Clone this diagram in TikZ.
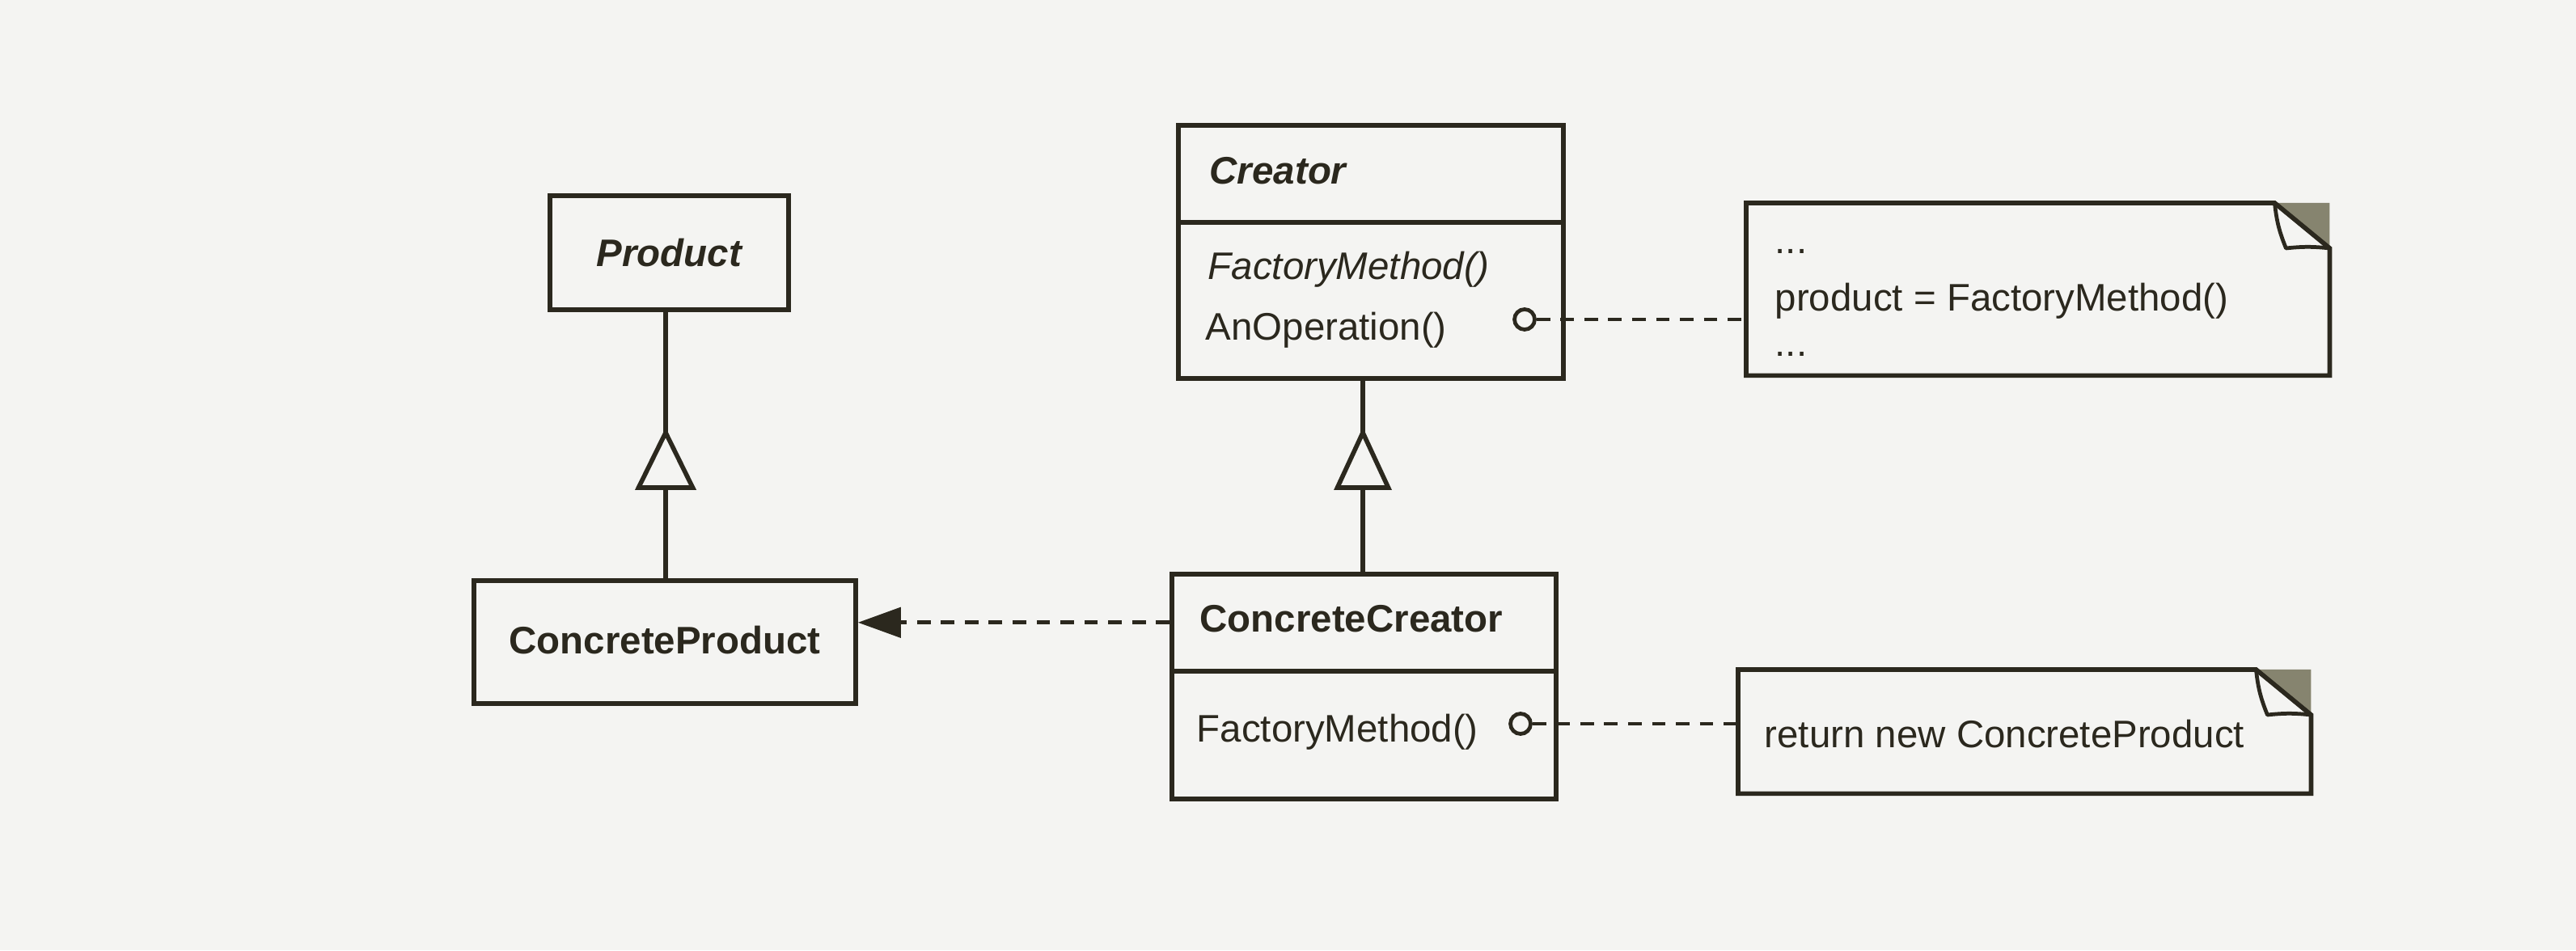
\documentclass[tikz,border=0pt]{standalone}
\usepackage{fontspec}
\setmainfont{Liberation Sans}
\usetikzlibrary{arrows.meta,calc}
\definecolor{ink}{HTML}{2B281E}
\definecolor{paper}{HTML}{F4F4F2}
\definecolor{foldgray}{HTML}{86846F}
\begin{document}
\begin{tikzpicture}[x=1cm,y=1cm,
  classbox/.style={draw=ink, line width=1.6pt, rectangle, inner sep=0pt},
  lbl/.style={text=ink, font=\fontsize{13.5}{16}\selectfont, inner sep=0pt},
  notebox/.style={rectangle, inner sep=0pt},
  dashedline/.style={draw=ink, line width=1.35pt, dash pattern=on 4.8pt off 3.6pt},
  hollowtri/.style={draw=ink, line width=1.6pt, fill=paper, line join=miter},
  plainline/.style={draw=ink, line width=1.6pt},
  pin/.style={circle, draw=ink, line width=1.35pt, minimum size=0.25cm, inner sep=0pt}
]
\fill[paper] (0,0) rectangle (31.85,11.75);
\useasboundingbox (0,0) rectangle (31.85,11.75);

% Product
\node[classbox, minimum width=2.95cm, minimum height=1.41cm] (product) at (8.275,8.625) {};
\node[lbl, font=\fontsize{13.5}{16}\selectfont\bfseries\itshape] (productT) at (product) {Product};

% ConcreteProduct
\node[classbox, minimum width=4.72cm, minimum height=1.52cm] (cproduct) at (8.22,3.81) {};
\node[lbl, font=\fontsize{13.5}{16}\selectfont\bfseries] (cproductT) at (8.22,3.83) {ConcreteProduct};

% Creator
\node[classbox, anchor=north west, minimum width=4.76cm, minimum height=1.20cm] (creatorH) at (14.54,10.23) {};
\node[classbox, anchor=north west, minimum width=4.76cm, minimum height=1.93cm] (creatorB) at (14.54,9.03) {};
\node[lbl, anchor=base west, font=\fontsize{13.5}{16}\selectfont\bfseries\itshape] (creatorT) at (14.95,9.47) {Creator};
\node[lbl, anchor=base west, font=\fontsize{13.5}{16}\selectfont\itshape] (fmA) at (14.93,8.29) {FactoryMethod()};
\node[lbl, anchor=base west] (anop) at (14.90,7.54) {AnOperation()};
\node[pin] (pinA) at (18.85,7.80) {};

% ConcreteCreator
\node[classbox, anchor=north west, minimum width=4.75cm, minimum height=1.20cm] (ccreatorH) at (14.46,4.68) {};
\node[classbox, anchor=north west, minimum width=4.75cm, minimum height=1.58cm] (ccreatorB) at (14.46,3.48) {};
\node[lbl, anchor=base west, font=\fontsize{13.5}{16}\selectfont\bfseries] (ccreatorT) at (14.83,3.93) {ConcreteCreator};
\node[lbl, anchor=base west] (fmB) at (14.79,2.57) {FactoryMethod()};
\node[pin] (pinB) at (18.80,2.80) {};

% Notes
\node[notebox, anchor=north west, minimum width=7.20cm, minimum height=2.12cm] (note1) at (21.59,9.24) {};
\node[notebox, anchor=north west, minimum width=7.07cm, minimum height=1.52cm] (note2) at (21.49,3.47) {};

\foreach \n in {note1,note2}{
  \fill[foldgray] ($(\n.north east)+(-0.68,0)$) -- (\n.north east) -- ($(\n.north east)+(0,-0.56)$) -- cycle;
  \draw[draw=ink, line width=1.35pt, fill=paper, line join=round]
    ($(\n.north east)+(-0.68,0)$) to[bend right=8] ($(\n.north east)+(-0.54,-0.56)$)
    to[bend left=6] ($(\n.north east)+(0,-0.56)$) -- cycle;
  \draw[draw=ink, line width=1.6pt, line join=miter]
    (\n.north west) -- ($(\n.north east)+(-0.68,0)$) -- ($(\n.north east)+(0,-0.56)$)
    -- (\n.south east) -- (\n.south west) -- cycle;
}
\node[lbl, anchor=base west] (n1a) at (21.94,8.61) {...};
\node[lbl, anchor=base west] (n1b) at (21.94,7.90) {product = FactoryMethod()};
\node[lbl, anchor=base west] (n1c) at (21.94,7.34) {...};
\node[lbl, anchor=base west] (n2a) at (21.81,2.51) {return new ConcreteProduct};

% Inheritance: Product <- ConcreteProduct
\coordinate (tL) at (8.23,6.40);
\coordinate (bL) at (8.23,5.72);
\draw[plainline] (tL |- product.south) -- (tL);
\draw[plainline] (bL) -- (bL |- cproduct.north);
\draw[hollowtri] (tL) -- ($(bL)+(-0.335,0)$) -- ($(bL)+(0.335,0)$) -- cycle;

% Inheritance: Creator <- ConcreteCreator
\coordinate (tR) at (16.85,6.40);
\coordinate (bR) at (16.85,5.72);
\draw[plainline] (tR |- creatorB.south) -- (tR);
\draw[plainline] (bR) -- (bR |- ccreatorH.north);
\draw[hollowtri] (tR) -- ($(bR)+(-0.315,0)$) -- ($(bR)+(0.315,0)$) -- cycle;

% Dependency arrow
\draw[dashedline, -{Triangle[length=0.53cm, width=0.37cm, fill=ink]}] (ccreatorH.west) -- (cproduct.east |- ccreatorH.west);

% Note connectors
\draw[dashedline] (pinA.east) -- (pinA.east -| note1.west);
\draw[dashedline] (pinB.east) -- (pinB.east -| note2.west);
\end{tikzpicture}
\end{document}
